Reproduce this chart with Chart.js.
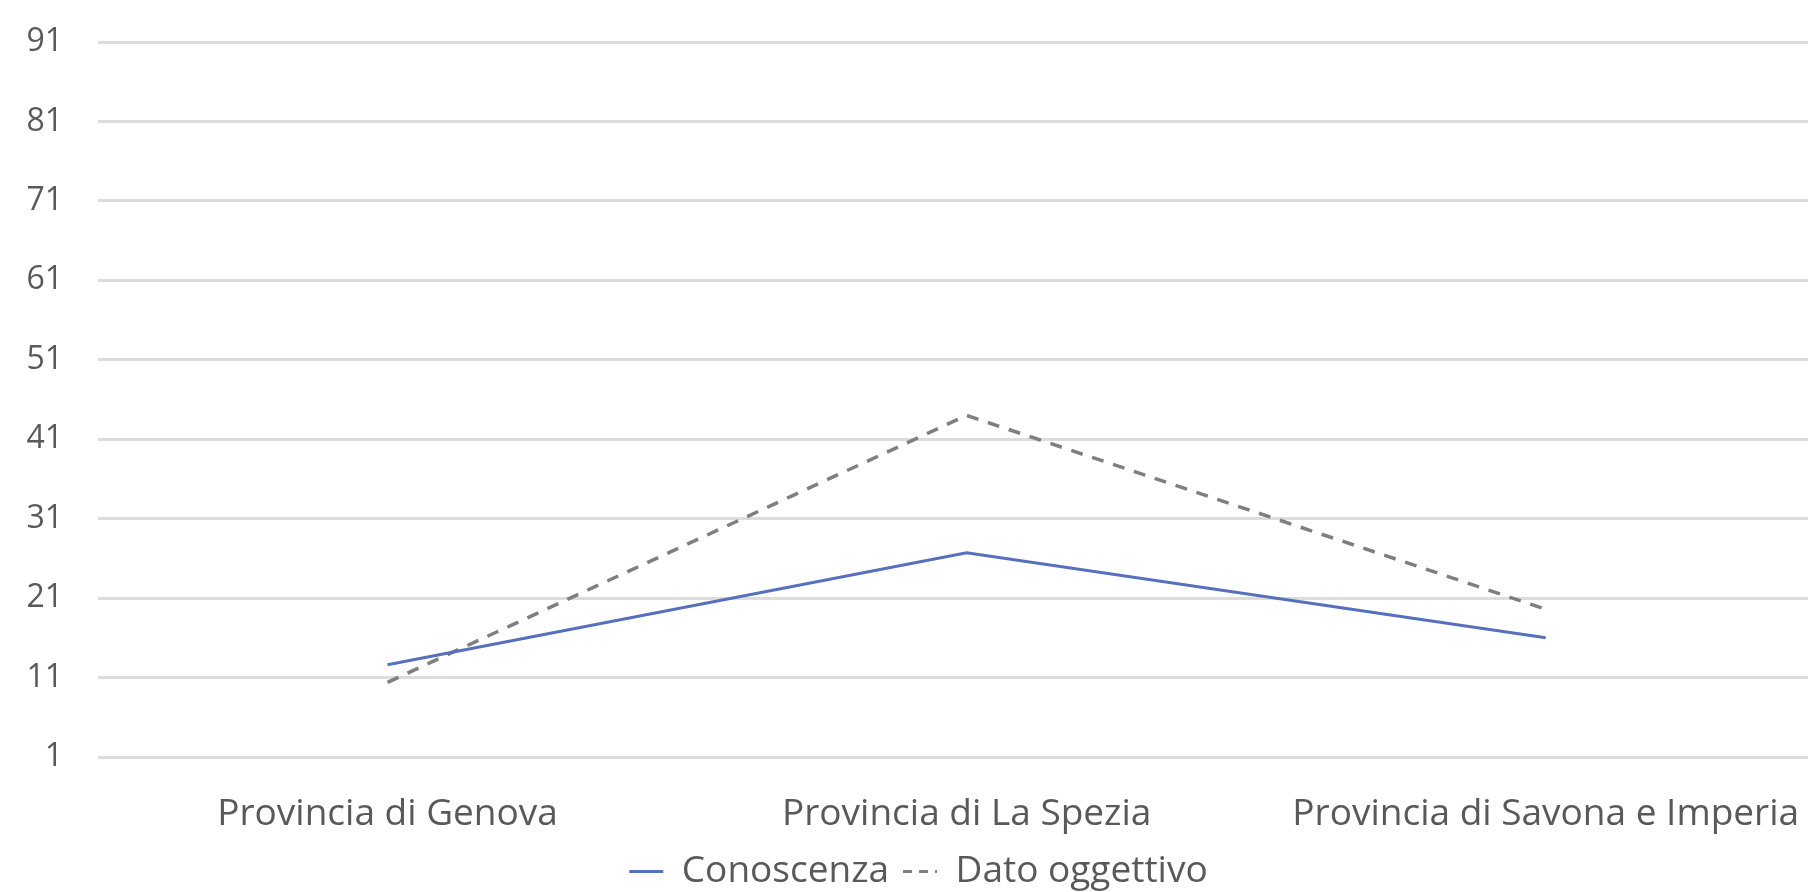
<!DOCTYPE html>
<html>
<head>
<meta charset="utf-8">
<script src="https://cdn.jsdelivr.net/npm/chart.js@4.4.1/dist/chart.umd.min.js"></script>
<style>
  html, body { margin: 0; padding: 0; background: #ffffff; overflow: hidden; width: 1808px; height: 892px; }
  canvas { display: block; }
</style>
</head>
<body>
<canvas id="c" width="1837" height="900"></canvas>
<script>
const categories = ["Provincia di Genova", "Provincia di La Spezia", "Provincia di Savona e Imperia"];
const conoscenza = [12.6, 26.7, 16.0];
const datoOggettivo = [10.4, 44.0, 19.6];
const seriesNames = ["Conoscenza", "Dato oggettivo"];
const yMin = 1, yMax = 91, yStep = 10;

const FONT = "'Open Sans', 'Noto Sans', sans-serif";
const TEXT = "#595959";
const AREA_TOP = 42, AREA_BOTTOM = 757;
let xAxisHeight = 78;

const chart = new Chart(document.getElementById('c'), {
  type: 'line',
  data: {
    labels: categories,
    datasets: [
      {
        label: seriesNames[0],
        data: conoscenza,
        borderColor: '#5670bd',
        backgroundColor: '#5670bd',
        borderWidth: 3,
        pointRadius: 0,
        tension: 0,
        fill: false
      },
      {
        label: seriesNames[1],
        data: datoOggettivo,
        borderColor: '#7f7f7f',
        backgroundColor: '#7f7f7f',
        borderWidth: 3.5,
        borderDash: [12, 10],
        pointRadius: 0,
        tension: 0,
        fill: false
      }
    ]
  },
  options: {
    responsive: false,
    animation: false,
    devicePixelRatio: 1,
    layout: { padding: { top: AREA_TOP, left: 0, right: 0, bottom: 0 } },
    plugins: {
      tooltip: { enabled: false },
      legend: {
        display: true,
        position: 'bottom',
        labels: {
          usePointStyle: true,
          pointStyle: 'line',
          pointStyleWidth: 34,
          padding: 14,
          color: TEXT,
          font: { family: FONT, size: 37 },
          generateLabels: (ch) => ch.data.datasets.map((ds, i) => ({
            text: ds.label,
            fillStyle: ds.borderColor,
            strokeStyle: ds.borderColor,
            lineWidth: 3,
            lineDash: i === 1 ? [9, 7] : [],
            pointStyle: 'line',
            fontColor: TEXT,
            hidden: false,
            datasetIndex: i
          }))
        }
      }
    },
    scales: {
      x: {
        type: 'category',
        offset: true,
        grid: { display: false, drawTicks: false },
        border: { display: false },
        ticks: {
          color: TEXT,
          font: { family: FONT, size: 37 },
          padding: 35,
          maxRotation: 0,
          autoSkip: false
        },
        afterFit: (s) => { s.height = xAxisHeight; }
      },
      y: {
        type: 'linear',
        min: yMin,
        max: yMax,
        grid: { color: '#dedbdb', lineWidth: 3, drawTicks: false },
        border: { display: false },
        ticks: {
          stepSize: yStep,
          color: TEXT,
          font: { family: FONT, size: 32 },
          padding: 35
        },
        afterFit: (s) => { s.width = 98; s.paddingTop = 20; s.paddingBottom = 20; }
      }
    }
  }
});

// Align the plot area with the reference using the library's own layout result.
for (let k = 0; k < 2; k++) {
  const ca = chart.chartArea;
  chart.options.layout.padding.top += AREA_TOP - ca.top;
  xAxisHeight += ca.bottom - AREA_BOTTOM;
  chart.update();
}
</script>
</body>
</html>
